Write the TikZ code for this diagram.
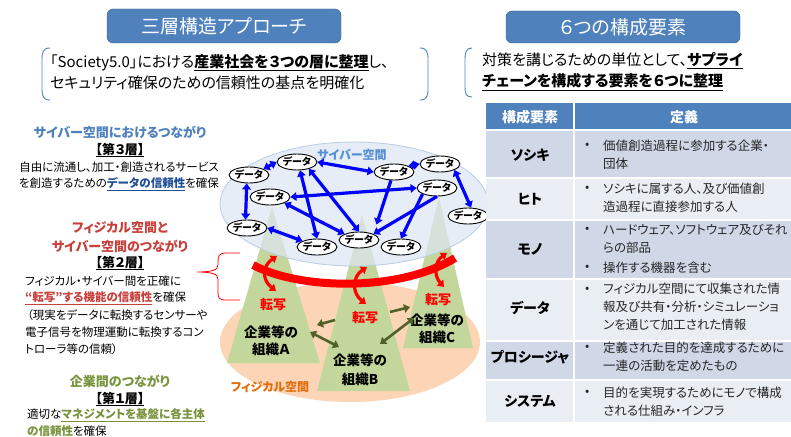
\documentclass[tikz,border=0pt]{standalone}
\usepackage{fontspec}
\setmainfont{Noto Sans CJK JP}[RawFeature=+palt]
\usepackage{tikz}
\usetikzlibrary{arrows.meta,shapes.geometric}
\definecolor{hdblue}{HTML}{4F81BD}
\definecolor{hdedge}{HTML}{385D8A}
\definecolor{rowdark}{HTML}{D0D8E8}
\definecolor{rowlight}{HTML}{E9EDF4}
\definecolor{cybfill}{HTML}{DCE6F2}
\definecolor{cybedge}{HTML}{B9CDE5}
\definecolor{cybtext}{HTML}{558ED5}
\definecolor{phyfill}{HTML}{FBD5B5}
\definecolor{phytext}{HTML}{E46C0A}
\definecolor{orgfill}{HTML}{C3D69B}
\definecolor{orgarrow}{HTML}{4F6228}
\definecolor{netblue}{HTML}{0000FF}
\definecolor{tred}{HTML}{FF0000}
\definecolor{layred}{HTML}{C8403C}
\definecolor{laygreen}{HTML}{77933C}
\definecolor{laydeep}{HTML}{1F4E96}
\newcommand{\datanode}[2]{
    \node[data] (#1) at (#2) {データ};
}
\newcommand{\fs}[1]{\fontsize{#1}{#1}\selectfont}

\begin{document}
\begin{tikzpicture}[x=1pt,y=-1pt,
    >={Triangle[length=6pt,width=8.5pt]},
    title/.style={draw=hdedge,fill=hdblue,rounded corners=6pt,text=white,font=\fs{19}},
    data/.style={ellipse,draw,fill=white,line width=0.9pt,inner sep=0pt,minimum width=38pt,minimum height=16pt,font=\fs{10}\bfseries},
    barrow/.style={draw=netblue,line width=3.2pt},
    tarrow/.style={draw=tred,line width=3.2pt,<->},
    garrow/.style={draw=orgarrow,line width=2.6pt},
    txt/.style={inner sep=0pt,font=\fs{11.5}},
    head/.style={inner sep=0pt,font=\fs{13}\bfseries},
    cell/.style={inner sep=0pt,anchor=west,align=left,font=\fontsize{12.5}{18}\selectfont,text=black!85},
    lab/.style={inner sep=0pt,font=\fs{14}\bfseries}]
    \useasboundingbox (0,0) rectangle (791,436);

    % titles
    \node[title,minimum width=234pt,minimum height=34pt] (t1) at (224,26) {三層構造アプローチ};
    \node[title,minimum width=234pt,minimum height=32pt] (t2) at (623,27) {６つの構成要素};

    % bracketed notes
    \draw[hdblue,line width=0.9pt] (50,48) .. controls (43,48) and (42,52) .. (42,60) -- (42,88) .. controls (42,96) and (43,100) .. (50,100);
    \draw[hdblue,line width=0.9pt] (420,48) .. controls (427,48) and (428,52) .. (428,60) -- (428,88) .. controls (428,96) and (427,100) .. (420,100);
    \draw[hdblue,line width=0.9pt] (472,48) .. controls (466,48) and (465,52) .. (465,60) -- (465,86) .. controls (465,94) and (466,97) .. (472,97);
    \node[txt,font=\fs{15},anchor=west] (s1) at (50,63) {「Society5.0」における\textbf{\underline{産業社会を３つの層に整理}}し、};
    \node[txt,font=\fs{15},anchor=west] (s2) at (50,83) {セキュリティ確保のための信頼性の基点を明確化};
    \node[txt,font=\fs{15},anchor=west] (r1) at (482,61) {対策を講じるための単位として、\textbf{\underline{サプライ}}};
    \node[txt,font=\fs{15}\bfseries,anchor=west] (r2) at (482,82) {\underline{チェーンを構成する要素を６つに整理}};

    % layer 3
    \node[head,text=hdblue] (l3a) at (120,132) {サイバー空間におけるつながり};
    \node[head] (l3b) at (120,150) {\underline{【第３層】}};
    \node[txt] (l3c) at (119,167) {自由に流通し、加工・創造されるサービス};
    \node[txt] (l3d) at (119,184) {を創造するための\textbf{\color{laydeep}\underline{データの信頼性}}を確保};
    % layer 2
    \node[head,text=layred] (l2a) at (120,228) {フィジカル空間と};
    \node[head,text=layred] (l2b) at (120,246) {サイバー空間のつながり};
    \node[head] (l2c) at (120,263) {\underline{【第２層】}};
    \node[txt,anchor=west] (l2d) at (25,281) {フィジカル・サイバー間を正確に};
    \node[txt,anchor=west] (l2e) at (25,298) {\textbf{\color{layred}\underline{“転写”する機能の信頼性}}を確保};
    \node[txt,anchor=west] (l2f) at (27,315) {（現実をデータに転換するセンサーや};
    \node[txt,anchor=west] (l2g) at (25,332) {電子信号を物理運動に転換するコン};
    \node[txt,anchor=west] (l2h) at (25,349) {トローラ等の信頼）};
    % layer 1
    \node[head,text=laygreen] (l1a) at (120,381) {企業間のつながり};
    \node[head] (l1b) at (120,399) {\underline{【第１層】}};
    \node[txt,anchor=west] (l1c) at (27,415) {適切な\textbf{\color{laygreen}\underline{マネジメントを基盤に各主体}}};
    \node[txt,anchor=west] (l1d) at (27,432) {\textbf{\color{laygreen}\underline{の信頼性}}を確保};

    % brace
    \draw[tred,line width=0.8pt] (240,253) -- (226,253) .. controls (219,253) and (218,256) .. (218,262) -- (218,265) .. controls (218,270) and (212,272) .. (197,272) .. controls (212,272) and (218,274) .. (218,279) -- (218,292) .. controls (218,298) and (219,300) .. (226,300) -- (240,300);

    % spaces and organisations
    \fill[phyfill] (350,342) ellipse [x radius=130pt,y radius=60pt];
    \fill[orgfill] (272,207) -- (320,363) -- (227,363) -- cycle;
    \fill[orgfill] (362,215) -- (410,391) -- (317,391) -- cycle;
    \fill[orgfill] (439,197) -- (473,348) -- (403,348) -- cycle;
    \filldraw[fill=cybfill,fill opacity=0.72,draw=cybedge,line width=0.8pt] (354,204) ellipse [x radius=134pt,y radius=62pt];
    \node[inner sep=0pt,font=\fs{12}\bfseries,text=cybtext] (cyb) at (352,155) {サイバー空間};
    \node[inner sep=0pt,font=\fs{12}\bfseries,text=phytext] (phy) at (270,387) {フィジカル空間};

    % transfer ring
    \draw[tred,line width=8pt] (253,265) .. controls (300,290) and (400,292) .. (455,258);
    \draw[tarrow] (277,256) .. controls (262,266) and (262,280) .. (276,291);
    \draw[tarrow] (367,267) .. controls (352,277) and (352,293) .. (366,304);
    \draw[tarrow] (447,253) .. controls (434,262) and (434,276) .. (444,287);
    \node[lab,text=tred,font=\fs{13}\bfseries] (ta) at (273,305) {転写};
    \node[lab,text=tred,font=\fs{13}\bfseries] (tb) at (365,318) {転写};
    \node[lab,text=tred,font=\fs{13}\bfseries] (tc) at (438,300) {転写};

    \node[lab,align=center,font=\fontsize{13.5}{17}\selectfont\bfseries] (oa) at (271,341) {企業等の\\組織Ａ};
    \node[lab,align=center,font=\fontsize{13.5}{19}\selectfont\bfseries] (ob) at (360,370) {企業等の\\組織B};
    \node[lab,align=center,font=\fontsize{13.5}{17}\selectfont\bfseries] (oc) at (437,329) {企業等の\\組織C};

    \coordinate (g1) at (335,320);
    \coordinate (g2) at (317,325);
    \coordinate (g3) at (310,332);
    \coordinate (g4) at (339,347);
    \coordinate (g5) at (390,312);
    \coordinate (g6) at (410,307);
    \coordinate (g7) at (380,344);
    \coordinate (g8) at (414,318);
    \draw[garrow,->] (g1) -- (g2);
    \draw[garrow,<->] (g3) -- (g4);
    \draw[garrow,->] (g5) -- (g6);
    \draw[garrow,<->] (g7) -- (g8);

    % data network
    \datanode{d1}{297,162}
    \datanode{d2}{249,175}
    \datanode{d3}{394,172}
    \datanode{d4}{440,164}
    \datanode{d5}{270,197}
    \datanode{d6}{437,188}
    \datanode{d7}{247,228}
    \datanode{d8}{317,247}
    \datanode{d9}{359,240}
    \datanode{d10}{401,247}
    \datanode{d11}{468,216}
    \draw[barrow,<->] (d2.north east) -- (d1.west);
    \draw[barrow,<->] (d1.east) -- (d3.west);
    \draw[barrow,<->] (d3.north east) -- (d4.west);
    \draw[barrow,<->] (d4.south east) -- (d11.70);
    \draw[barrow,<->] (d2.255) -- (d7.100);
    \draw[barrow,<->] (d5.east) -- (d6.west);
    \draw[barrow,<->] (d7.east) -- (d8.north west);
    \draw[barrow,<->] (d1.290) -- (d8.north);
    \draw[barrow,<->] (d1.330) -- (d9.north);
    \draw[barrow,<->] (d5.south east) -- (d9.north west);
    \draw[barrow,->,shorten >=10pt] (d3.250) -- (d9.north east);
    \draw[barrow,->] (d6.south) -- (d9.north east);
    \draw[barrow,->] (d6.south west) -- (d10.north);

    % table
    \fill[hdblue] (486,103) rectangle (574,130);
    \fill[hdblue] (574,103) rectangle (791,130);
    \fill[rowdark] (486,130) rectangle (791,178);
    \fill[rowlight] (486,178) rectangle (791,220);
    \fill[rowdark] (486,220) rectangle (791,279);
    \fill[rowlight] (486,279) rectangle (791,341);
    \fill[rowdark] (486,341) rectangle (791,380);
    \fill[rowlight] (486,380) rectangle (791,422);
    \draw[white,line width=1.5pt] (486,130) -- (791,130) (486,178) -- (791,178) (486,220) -- (791,220) (486,279) -- (791,279) (486,341) -- (791,341) (486,380) -- (791,380) (574,103) -- (574,422);
    \node[lab,text=white] (h1) at (530,117) {構成要素};
    \node[lab,text=white] (h2) at (684,117) {定義};
    \node[lab] (k1) at (530,155) {ソシキ};
    \node[lab] (k2) at (530,199) {ヒト};
    \node[lab] (k3) at (530,249) {モノ};
    \node[lab] (k4) at (530,308) {データ};
    \node[lab] (k5) at (530,357) {プロシージャ};
    \node[lab] (k6) at (530,401) {システム};
    \node[cell] (b1) at (585,146) {•};
    \node[cell] (e1) at (603,155) {価値創造過程に参加する企業・\\団体};
    \node[cell] (b2) at (585,189) {•};
    \node[cell] (e2) at (603,198) {ソシキに属する人、及び価値創\\造過程に直接参加する人};
    \node[cell] (b3) at (585,230) {•};
    \node[cell] (e3) at (603,239) {ハードウェア、ソフトウェア及びそれ\\らの部品};
    \node[cell] (b4) at (585,268) {•};
    \node[cell] (e4) at (603,268) {操作する機器を含む};
    \node[cell] (b5) at (585,290) {•};
    \node[cell] (e5) at (603,307) {フィジカル空間にて収集された情\\報及び共有・分析・シミュレーショ\\ンを通じて加工された情報};
    \node[cell] (b6) at (585,348) {•};
    \node[cell] (e6) at (603,357) {定義された目的を達成するために\\一連の活動を定めたもの};
    \node[cell] (b7) at (585,393) {•};
    \node[cell] (e7) at (603,402) {目的を実現するためにモノで構成\\される仕組み・インフラ};
\end{tikzpicture}
\end{document}
